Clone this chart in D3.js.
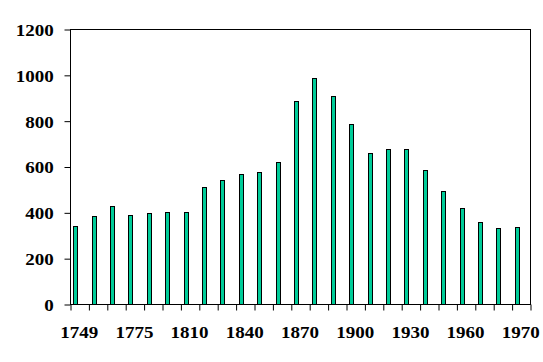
<!DOCTYPE html>
<meta charset="utf-8">
<script src="https://d3js.org/d3.v7.min.js"></script>
<style>
    body { margin: 0; background: #fff; }
    svg text.lb { font-family: "Liberation Serif", Tinos, "Times New Roman", Times, "DejaVu Serif", serif !important; font-weight: bold; font-size: 17px; }
</style>
<div id="vis"></div>
<script>
    // years (only every 3rd gets a label)
    var years = ["1749", "1760", "1766", "1775", "1785", "1795", "1810", "1820", "1830",
        "1840", "1850", "1860", "1870", "1880", "1890", "1900", "1910", "1920",
        "1930", "1940", "1950", "1960", "1964", "1967", "1970"];
    var vals = [340, 384, 428, 388, 397, 401, 401, 510, 541, 569, 576, 620,
        886, 986, 908, 785, 660, 676, 676, 585, 494, 419, 358, 333, 337];
    var yTicks = [0, 200, 400, 600, 800, 1000, 1200];
    var shown = ["1749", "1775", "1810", "1840", "1870", "1900", "1930", "1960", "1970"];

    // plot box
    var box = { lft: 70, rgt: 530, top: 29, btm: 304 };

    var svg = d3.select("#vis")
        .append("svg")
        .attr("width", 543)
        .attr("height", 362);

    var x = d3.scaleBand()
        .domain(years)
        .range([box.lft, box.rgt])
        .padding(0);
    var xi = d3.scaleLinear()
        .domain([0, years.length])
        .range([box.lft, box.rgt]);
    var y = d3.scaleLinear()
        .domain([0, 1200])
        .range([box.btm, box.top]);

    // bars
    var bw = x.bandwidth();
    svg.append("g")
        .selectAll("rect")
        .data(vals)
        .enter()
        .append("rect")
        .attr("x", function (d, i) { return Math.round(x(years[i]) + bw * 0.17) + 0.5; })
        .attr("y", function (d) { return Math.round(y(d)) + 0.5; })
        .attr("width", 4)
        .attr("height", function (d) { return Math.round(box.btm - y(d)); })
        .style("fill", "#00cc99")
        .style("stroke", "#000")
        .style("stroke-width", 1);

    // border
    svg.append("rect")
        .attr("x", box.lft + 0.5)
        .attr("y", box.top + 0.5)
        .attr("width", box.rgt - box.lft)
        .attr("height", box.btm - box.top)
        .style("fill", "none")
        .style("stroke", "#000");

    // y axis
    var ya = svg.append("g")
        .attr("font-family", null)
        .attr("transform", "translate(" + (box.lft + 0.5) + ",0.5)")
        .call(d3.axisLeft(y).tickValues(yTicks).tickSize(6).tickPadding(9).tickFormat(d3.format("d")));
    ya.attr("font-family", null).attr("font-size", null);
    ya.select(".domain").remove();
    ya.selectAll("text")
        .attr("class", "lb")
        .attr("transform", "scale(1.12,1)")
        .attr("dy", "0.35em");

    // x ticks at category edges
    var xt = svg.append("g")
        .attr("transform", "translate(0.5," + (box.btm + 0.5) + ")")
        .call(d3.axisBottom(xi).tickValues(d3.range(years.length + 1)).tickSize(6).tickFormat(""));
    xt.select(".domain").remove();

    // x labels
    var xa = svg.append("g")
        .attr("transform", "translate(0," + box.btm + ")")
        .call(d3.axisBottom(x).tickSize(0).tickPadding(22)
            .tickFormat(function (d) { return shown.indexOf(d) >= 0 ? d : ""; }));
    xa.attr("font-family", null).attr("font-size", null);
    xa.select(".domain").remove();
    xa.selectAll("text")
        .attr("class", "lb")
        .attr("transform", "scale(1.12,1)");
</script>
